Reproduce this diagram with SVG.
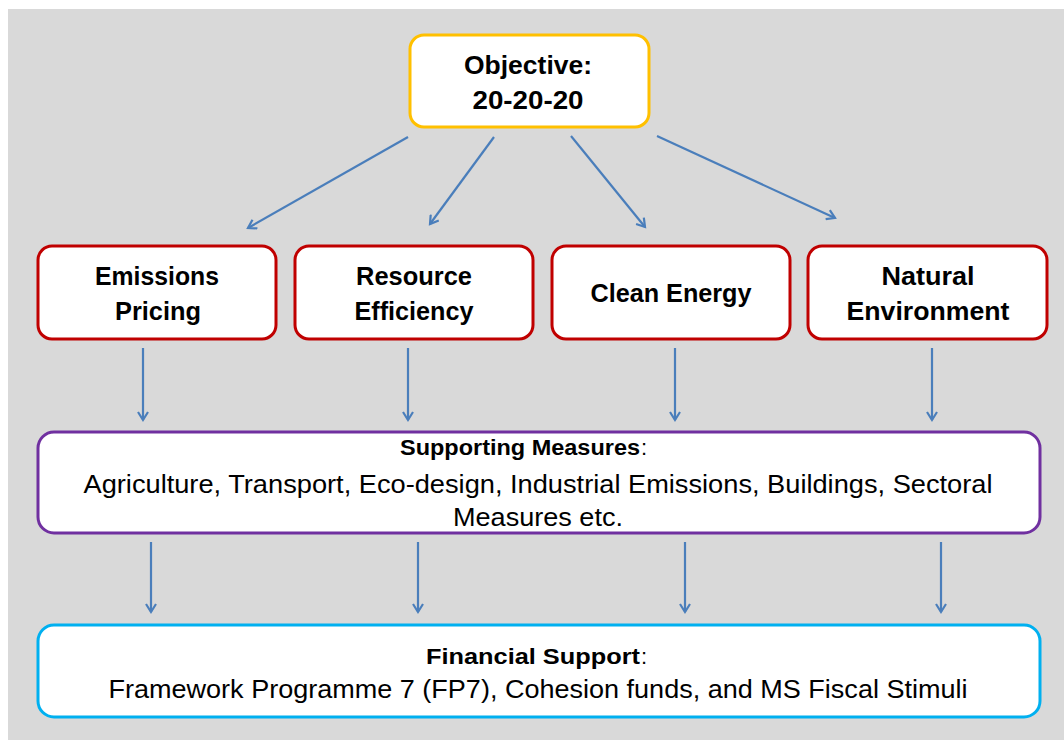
<svg xmlns="http://www.w3.org/2000/svg" width="1064" height="740" viewBox="0 0 1064 740">
<style>
.box{fill:#fff;stroke-width:3}
.t{font-family:"Liberation Sans",Arial,sans-serif;fill:#000;text-anchor:middle}
.b{font-weight:bold;font-size:25px}
.n{font-size:25px}
.c{stroke:#4a7ebb;stroke-width:2.2;fill:none;marker-end:url(#ah)}
</style>
<defs>
<marker id="ah" markerWidth="12" markerHeight="12" refX="9" refY="6" orient="auto" markerUnits="userSpaceOnUse">
<path d="M1,1 L9,6 L1,11" fill="none" stroke="#4a7ebb" stroke-width="2.2"/>
</marker>
</defs>
<rect x="8" y="9" width="1056" height="731" fill="#d9d9d9"/>
<g id="connectors">
<line class="c" x1="408" y1="137" x2="248" y2="228"/>
<line class="c" x1="494" y1="137" x2="430" y2="224"/>
<line class="c" x1="571" y1="136" x2="645" y2="227"/>
<line class="c" x1="657" y1="136" x2="835" y2="218"/>
<line class="c" x1="143" y1="348" x2="143" y2="420"/>
<line class="c" x1="408" y1="348" x2="408" y2="420"/>
<line class="c" x1="675" y1="348" x2="675" y2="420"/>
<line class="c" x1="932" y1="348" x2="932" y2="420"/>
<line class="c" x1="151" y1="542" x2="151" y2="612"/>
<line class="c" x1="418" y1="542" x2="418" y2="612"/>
<line class="c" x1="685" y1="542" x2="685" y2="612"/>
<line class="c" x1="941" y1="542" x2="941" y2="612"/>
</g>
<g id="objective">
<rect class="box" x="410" y="35" width="239" height="92" rx="14" stroke="#ffc000"/>
<text class="t b" x="528" y="74" textLength="128" lengthAdjust="spacingAndGlyphs">Objective:</text>
<text class="t b" x="528" y="109" textLength="111" lengthAdjust="spacingAndGlyphs">20-20-20</text>
</g>
<g id="emissions">
<rect class="box" x="38" y="246" width="238" height="93" rx="14" stroke="#c00000"/>
<text class="t b" x="157" y="285" textLength="124" lengthAdjust="spacingAndGlyphs">Emissions</text>
<text class="t b" x="158" y="320" textLength="86" lengthAdjust="spacingAndGlyphs">Pricing</text>
</g>
<g id="resource">
<rect class="box" x="295" y="246" width="238" height="93" rx="14" stroke="#c00000"/>
<text class="t b" x="414" y="285" textLength="116" lengthAdjust="spacingAndGlyphs">Resource</text>
<text class="t b" x="414" y="320" textLength="119" lengthAdjust="spacingAndGlyphs">Efficiency</text>
</g>
<g id="clean">
<rect class="box" x="552" y="246" width="238" height="93" rx="14" stroke="#c00000"/>
<text class="t b" x="671" y="302" textLength="161" lengthAdjust="spacingAndGlyphs">Clean Energy</text>
</g>
<g id="natural">
<rect class="box" x="808" y="246" width="239" height="93" rx="14" stroke="#c00000"/>
<text class="t b" x="928" y="285" textLength="93" lengthAdjust="spacingAndGlyphs">Natural</text>
<text class="t b" x="928" y="320" textLength="163" lengthAdjust="spacingAndGlyphs">Environment</text>
</g>
<g id="supporting">
<rect class="box" x="38" y="432" width="1002" height="101" rx="16" stroke="#7030a0"/>
<text class="t" x="520" y="455" font-size="22" font-weight="bold" textLength="240" lengthAdjust="spacingAndGlyphs">Supporting Measures</text>
<text x="641" y="455" font-size="22" font-family="Liberation Sans, Arial, sans-serif">:</text>
<text class="t n" x="538" y="493" textLength="909" lengthAdjust="spacingAndGlyphs">Agriculture, Transport, Eco-design, Industrial Emissions, Buildings, Sectoral</text>
<text class="t n" x="538" y="526" textLength="170" lengthAdjust="spacingAndGlyphs">Measures etc.</text>
</g>
<g id="financial">
<rect class="box" x="38" y="625" width="1002" height="92" rx="16" stroke="#00b0f0"/>
<text class="t" x="533" y="664" font-size="22" font-weight="bold" textLength="214" lengthAdjust="spacingAndGlyphs">Financial Support</text>
<text x="641" y="664" font-size="22" font-family="Liberation Sans, Arial, sans-serif">:</text>
<text class="t n" x="538" y="698" textLength="859" lengthAdjust="spacingAndGlyphs">Framework Programme 7 (FP7), Cohesion funds, and MS Fiscal Stimuli</text>
</g>
</svg>
